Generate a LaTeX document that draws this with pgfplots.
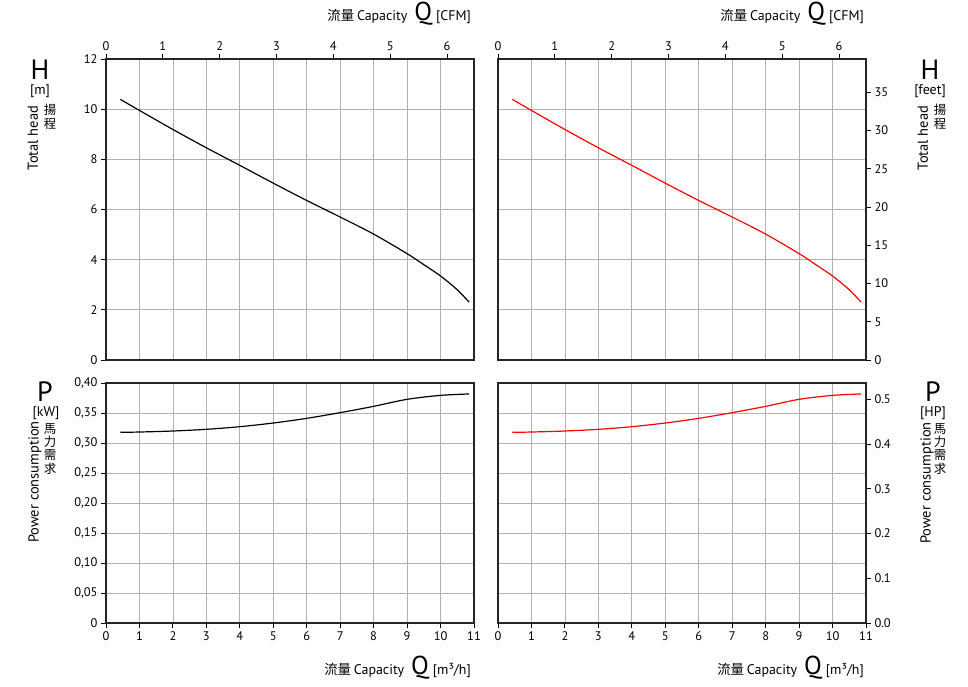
\documentclass[border=0pt]{standalone}
\usepackage{fontspec}
\setmainfont{PT Sans}
\newfontfamily\cjk{Noto Sans CJK TC}
\usepackage{pgfplots}
\usepackage{pgfplotstable}
\pgfplotsset{compat=1.18}

% Q [m3/h], H [m]
\pgfplotstableread{
Q     H
0.43  10.39
1     9.95
2     9.19
3     8.46
4     7.76
5     7.05
6     6.36
7     5.70
8     5.02
9     4.24
9.5   3.80
10    3.35
10.5  2.80
10.85 2.31
}\headdata
% Q [m3/h], P [kW]
\pgfplotstableread{
Q     P
0.43  0.3178
1     0.3183
2     0.3200
3     0.3228
4     0.3272
5     0.3333
6     0.3411
7     0.3506
8     0.3611
9     0.3728
10    0.3794
10.85 0.3817
}\powerdata

\pgfplotsset{
  base/.style={scale only axis, width=368bp, anchor=south west,
    tick align=outside, major tick length=5bp,
    tick style={black, line width=0.9pt},
    axis line style={black!85, line width=1.1pt},
    tick label style={font=\fontsize{12.5}{13}\selectfont},
    /pgf/number format/assume math mode=true},
  panel/.style={base, xmin=0, xmax=11, xtick={0,...,11},
    grid=major, major grid style={black!30, line width=0.7pt}},
  hpanel/.style={panel, height=301bp, ymin=0, ymax=12, ytick={0,2,...,12},
    xticklabels={}, major x tick style={draw=none}},
  ppanel/.style={panel, height=240bp, ymin=0, ymax=0.40,
    ytick={0,0.05,0.1,0.15,0.2,0.25,0.3,0.35,0.4}, xtick pos=bottom},
  cfm/.style={base, height=301bp, xmin=0, xmax=6.4744, ymin=0, ymax=1,
    axis x line*=top, hide y axis, xtick={0,...,6}},
}

\begin{document}
\begin{tikzpicture}
\path[use as bounding box] (0,0) rectangle (968bp,-687bp);

% ---- top left: head in m
\begin{axis}[hpanel, at={(106bp,-360bp)}, ytick pos=left]
\addplot[black, line width=1.2pt, smooth] table[x=Q, y=H] {\headdata};
\end{axis}
\begin{axis}[cfm, at={(106bp,-360bp)}]
\addplot[draw=none] coordinates {(0,0)};
\end{axis}

% ---- top right: head in feet
\begin{axis}[hpanel, at={(498bp,-360bp)}, yticklabels={}, major y tick style={draw=none}]
\addplot[red, line width=1.2pt, smooth] table[x=Q, y=H] {\headdata};
\end{axis}
\begin{axis}[cfm, at={(498bp,-360bp)}]
\addplot[draw=none] coordinates {(0,0)};
\end{axis}
\begin{axis}[base, at={(498bp,-360bp)}, height=301bp, xmin=0, xmax=11,
  ymin=0, ymax=39.37, axis y line*=right, hide x axis, ytick={0,5,...,35}]
\addplot[draw=none] coordinates {(0,0)};
\end{axis}

% ---- bottom left: power in kW
\begin{axis}[ppanel, at={(106bp,-623bp)}, ytick pos=left,
  yticklabels={0,{0,05},{0,10},{0,15},{0,20},{0,25},{0,30},{0,35},{0,40}}]
\addplot[black, line width=1.2pt, smooth] table[x=Q, y=P] {\powerdata};
\end{axis}

% ---- bottom right: power in HP
\begin{axis}[ppanel, at={(498bp,-623bp)}, yticklabels={}, major y tick style={draw=none}]
\addplot[red, line width=1.2pt, smooth] table[x=Q, y=P] {\powerdata};
\end{axis}
\begin{axis}[base, at={(498bp,-623bp)}, height=240bp, xmin=0, xmax=11,
  ymin=0, ymax=0.53641, axis y line*=right, hide x axis,
  ytick={0,0.1,0.2,0.3,0.4,0.5},
  yticklabel style={/pgf/number format/.cd, fixed, fixed zerofill, precision=1}]
\addplot[draw=none] coordinates {(0,0)};
\end{axis}

% ---- axis titles
\def\qlab#1{{\cjk\fontsize{13.5}{14}\selectfont 流量} {\fontsize{14}{14}\selectfont Capacity}\hspace{7bp}{\fontsize{26}{26}\selectfont Q}\hspace{4bp}{\fontsize{14}{14}\selectfont #1}}
\node[anchor=base east, inner sep=0] at (471bp,-20bp) {\qlab{[CFM]}};
\node[anchor=base east, inner sep=0] at (864bp,-20bp) {\qlab{[CFM]}};
\node[anchor=base east, inner sep=0] at (471bp,-674bp) {\qlab{[m³/h]}};
\node[anchor=base east, inner sep=0] at (864bp,-674bp) {\qlab{[m³/h]}};

\tikzset{cjkstack/.style={inner sep=0, anchor=north, align=center,
  font=\cjk\fontsize{12.5}{13.5}\selectfont},
  big/.style={inner sep=0, anchor=base, text depth=0pt, font=\fontsize{28}{28}\selectfont},
  unit/.style={inner sep=0, anchor=base, text height=9bp, text depth=3bp,
    font=\fontsize{14}{14}\selectfont}}
% left, head
\node[big] at (40bp,-79bp) {H};
\node[unit] at (40bp,-94bp) {[m]};
\node[inner sep=0, rotate=90] at (33bp,-138bp) {\fontsize{14.5}{14.5}\selectfont Total head};
\node[cjkstack] at (50bp,-104bp) {揚\\程};
% right, head
\node[big] at (930bp,-79bp) {H};
\node[unit] at (930bp,-94bp) {[feet]};
\node[inner sep=0, rotate=90] at (923bp,-138bp) {\fontsize{14.5}{14.5}\selectfont Total head};
\node[cjkstack] at (940bp,-104bp) {揚\\程};
% left, power
\node[big] at (45bp,-401bp) {P};
\node[unit] at (46bp,-416bp) {[kW]};
\node[inner sep=0, rotate=90] at (35bp,-482bp) {\fontsize{14.5}{14.5}\selectfont Power consumption};
\node[cjkstack] at (50bp,-423bp) {馬\\力\\需\\求};
% right, power
\node[big] at (933bp,-401bp) {P};
\node[unit] at (933bp,-416bp) {[HP]};
\node[inner sep=0, rotate=90] at (927bp,-483bp) {\fontsize{14.5}{14.5}\selectfont Power consumption};
\node[cjkstack] at (940bp,-423bp) {馬\\力\\需\\求};
\end{tikzpicture}
\end{document}
